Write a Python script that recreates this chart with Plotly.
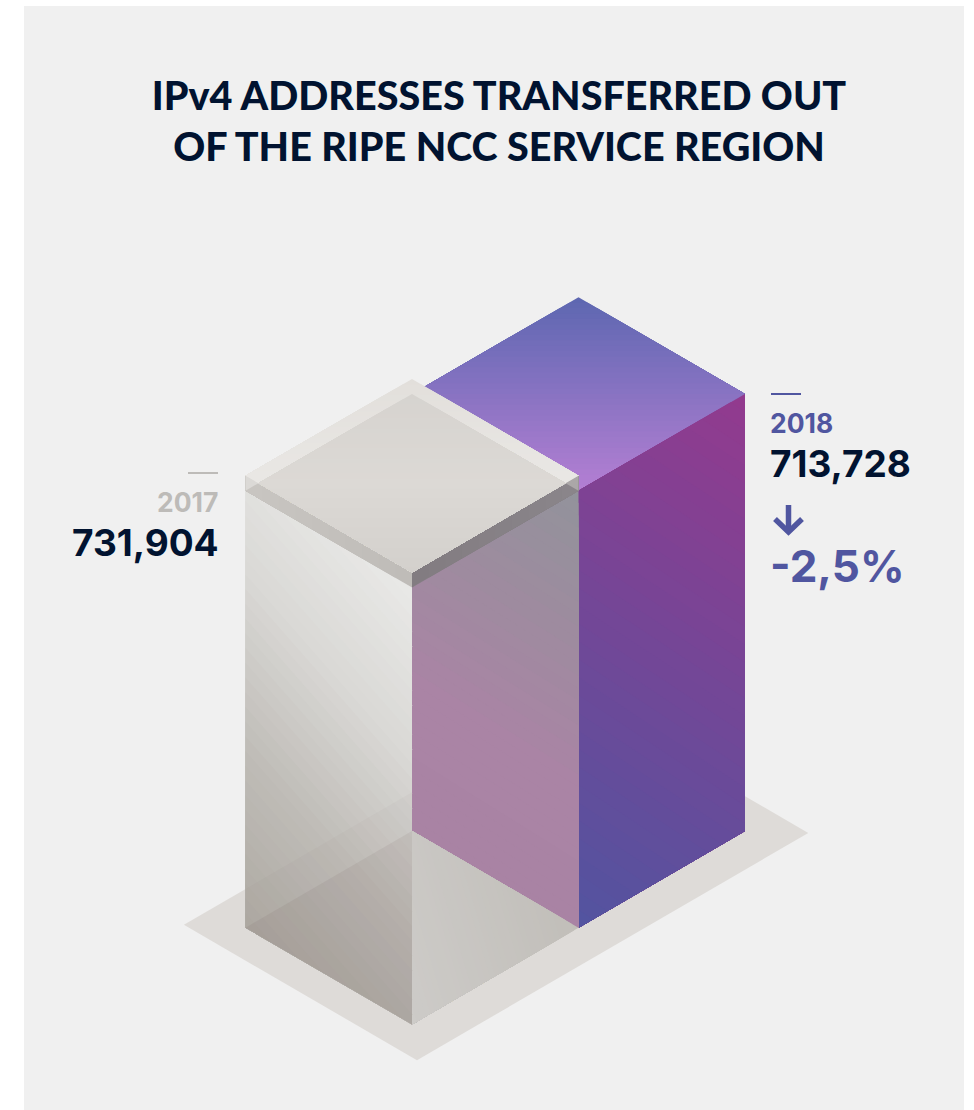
import plotly.graph_objects as go

# ---- data ----
years = ["2017", "2018"]
addresses = [731904, 713728]
title_lines = ["IPv4 ADDRESSES TRANSFERRED OUT", "OF THE RIPE NCC SERVICE REGION"]

# ---- scale: value -> drawn height, floor is the (non zero) base of the height axis ----
VALUE_FLOOR = 184000
PX_PER_UNIT = 437 / (addresses[1] - VALUE_FLOOR)
AX, AY = 166.5, 96.7       # isometric unit vectors
X0, Y0 = 412, 831          # projected origin
WIDTH, HEIGHT = 974, 1110
INK = "#011330"
BLUE = "#5056a0"
GREY = "#bdbbb8"
FONT = "Inter"
TITLE_FONT = "Lato"


def height(v):
    return (v - VALUE_FLOOR) * PX_PER_UNIT


def P(u, v, h=0.0):
    return (X0 + (u - v) * AX, Y0 + (u + v) * AY - h)


def hexrgb(c):
    c = c.lstrip("#")
    return tuple(int(c[i:i + 2], 16) for i in (0, 2, 4))


def ramp(stops, t):
    t = max(0, min(1, t))
    n = len(stops) - 1
    i = min(int(t * n), n - 1)
    f = t * n - i
    a, b = hexrgb(stops[i]), hexrgb(stops[i + 1])
    return "rgb(%d,%d,%d)" % tuple(round(a[k] + (b[k] - a[k]) * f) for k in range(3))


def clip(poly, d, level):
    """keep the part of poly with projection on d >= level"""
    out = []
    for i, p in enumerate(poly):
        q = poly[(i + 1) % len(poly)]
        sp = p[0] * d[0] + p[1] * d[1] - level
        sq = q[0] * d[0] + q[1] * d[1] - level
        if sp >= 0:
            out.append(p)
        if (sp >= 0) != (sq >= 0):
            f = sp / (sp - sq)
            out.append((p[0] + (q[0] - p[0]) * f, p[1] + (q[1] - p[1]) * f))
    return out


fig = go.Figure()


def flat(poly, color):
    xs = [p[0] for p in poly] + [poly[0][0]]
    ys = [p[1] for p in poly] + [poly[0][1]]
    fig.add_trace(go.Scatter(x=xs, y=ys, mode="lines", fill="toself", fillcolor=color,
                             line=dict(width=0), hoverinfo="skip", showlegend=False))


def grad(poly, d, stops, steps=36):
    pr = [p[0] * d[0] + p[1] * d[1] for p in poly]
    lo, hi = min(pr), max(pr)
    for k in range(steps):
        part = clip(poly, d, lo + (hi - lo) * k / steps)
        if len(part) >= 3:
            flat(part, ramp(stops, (k + 0.5) / steps))


h17, h18 = height(addresses[0]), height(addresses[1])
dlt = (h17 - h18) / (2 * AY)

# floor
flat([P(-0.2, -1.18), P(1.2, -1.18), P(1.2, 1.17), P(-0.2, 1.17)], "#dedbd8")

# 2018 solid bar (occupies v in [-1, 0])
grad([P(0, -1, h18), P(1, -1, h18), P(1, 0, h18), P(0, 0, h18)], (0, 1),
     ["#5d67b1", "#b47fd3"])
grad([P(1, -1, h18), P(1, 0, h18), P(1, 0), P(1, -1)], (-0.95, 1.43),
     ["#933a8e", "#5254a0"])

# 2017 glass bar (occupies v in [0, 1]); right face, with the 2018 bar seen through it
grad([P(1, 1, h18), P(1, 0, h18), P(1, 0), P(0, 0)], (-1, 1.6),
     ["#92939b", "#9e8b9f", "#aa84a5", "#a983a4"])
grad([P(0, 0), P(1, 0), P(1, 1)], (-1, 0.3), ["#c1beb9", "#cdcbc8"])

# left face, then the floor and the bar's footprint seen through it
grad([P(0, 1, h18), P(1, 1, h18), P(1, 1), P(0, 1)], (-0.18, 0.158),
     ["#e9e9e7", "#d9d8d5", "#bfbcb7", "#aeaaa3"])
flat([P(-0.2, 0.8), P(-0.2, -0.2), P(1, 1), P(0, 1)], "rgba(120,100,90,0.04)")
flat([P(0, 1), P(0, 0), P(1, 1)], "rgba(90,70,60,0.08)")

# lid: level of the 2017 value over the 2018 level
grad([P(1, 1, h17), P(1, 1, h18), P(0, 1, h18), P(0, 1, h17)], (-1, 0), ["#bfbcb8", "#c8c5c1"], steps=10)
grad([P(1, 1, h17), P(1, 0, h17), P(1, 0, h18), P(1, 1, h18)], (1, 0), ["#827b81", "#8a868a"], steps=10)
grad([P(0, 0, h17), P(1, 0, h17), P(1, 1, h17), P(0, 1, h17)], (0, 1), ["#e2dfdb", "#f0efed"])
grad([P(dlt, dlt, h17), P(1, dlt, h17), P(1, 1, h17), P(dlt, 1, h17)], (0, 1),
     ["#d6d3cf", "#dcd9d5", "#d3d0cc"])
flat([P(0, 1, h17), P(dlt, 1, h17), P(0, 1, h18)], "#dbd9d6")
flat([P(1, 0, h17), P(1, dlt, h17), P(1, 0, h18)], "#aba7a8")

# value rules and the down arrow
for x_pair, y, col in [((188, 218), 473, GREY), ((771, 801), 394, BLUE)]:
    fig.add_trace(go.Scatter(x=list(x_pair), y=[y, y], mode="lines", line=dict(color=col, width=2),
                             hoverinfo="skip", showlegend=False))
fig.add_trace(go.Scatter(x=[788.5, 788.5, None, 775, 788.5, 802], y=[505, 531, None, 519, 532, 519],
                         mode="lines", line=dict(color=BLUE, width=5.5), connectgaps=False,
                         hoverinfo="skip", showlegend=False))


def label(x, y, text, size, color, anchor):
    fig.add_annotation(x=x, y=y, text=text, showarrow=False, xanchor=anchor, yanchor="middle",
                       xshift=0, font=dict(family=FONT, size=size, color=color, weight=700))


change = (addresses[1] - addresses[0]) / addresses[0] * 100
label(220, 502, years[0], 26.5, GREY, "right")
label(221, 542, f"{addresses[0]:,}", 37, INK, "right")
label(768, 423, years[1], 26.5, BLUE, "left")
label(768, 463, f"{addresses[1]:,}", 37, INK, "left")
label(768, 566, f"{change:.1f}%".replace(".", ","), 44, BLUE, "left")

fig.update_layout(
    width=WIDTH, height=HEIGHT, autosize=False,
    margin=dict(l=24, r=10, t=6, b=0),
    paper_bgcolor="#ffffff", plot_bgcolor="#f0f0f0",
    showlegend=False,
    title=dict(text="<br>".join(title_lines), x=499 / WIDTH, xref="container", xanchor="center",
               y=1 - 110 / HEIGHT, yref="container", yanchor="middle",
               font=dict(family=TITLE_FONT, size=39.5, color=INK, weight=900)),
    xaxis=dict(range=[24, 964], visible=False, fixedrange=True),
    yaxis=dict(range=[1110, 6], visible=False, fixedrange=True),
)
fig.write_html("out.html", post_script="document.body.style.margin='0';document.body.style.overflow='hidden';",
               config={"displayModeBar": False})
